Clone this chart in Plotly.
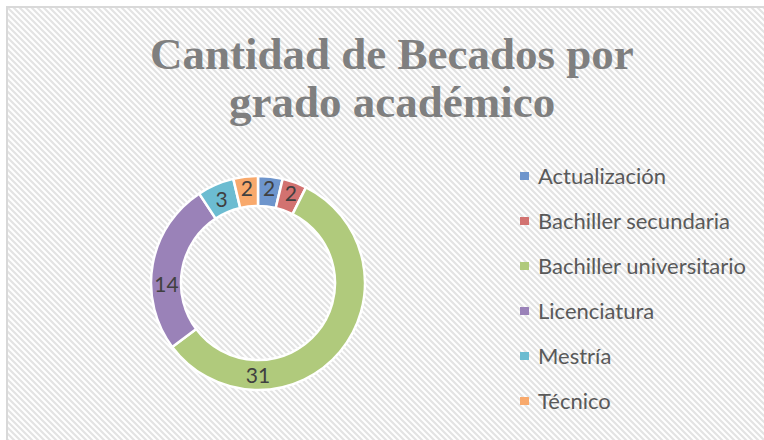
import plotly.graph_objects as go

categories = ["Actualización", "Bachiller secundaria", "Bachiller universitario",
              "Licenciatura", "Mestría", "Técnico"]
values = [2, 2, 31, 14, 3, 2]
title_lines = ["Cantidad de Becados por", "grado académico"]

colors = ["#6E95CC", "#D27270", "#B0CA7C", "#9A82B8", "#6CBCD1", "#F8A96C"]

W, H = 764, 440

def px(x):
    return x / W

def py(y):
    return 1 - y / H

hatch_svg = (
    "<svg xmlns='http://www.w3.org/2000/svg' width='764' height='440' preserveAspectRatio='none'>"
    "<defs><pattern id='p' width='6' height='6' patternUnits='userSpaceOnUse'>"
    "<rect width='6' height='6' fill='white'/>"
    "<path d='M-1,-1 L7,7 M-4,2 L1,7 M2,-4 L7,1' stroke='%23E3E3E3' stroke-width='2.2'/>"
    "</pattern></defs>"
    "<rect width='764' height='440' fill='url(%23p)'/></svg>"
)
hatch_uri = "data:image/svg+xml;utf8," + hatch_svg.replace("<", "%3C").replace(">", "%3E").replace("'", "%27").replace(" ", "%20")

fig = go.Figure()

cx, cy, r = 258, 283, 107
fig.add_trace(go.Pie(
    labels=categories,
    values=values,
    sort=False,
    direction="clockwise",
    rotation=0,
    hole=0.72,
    marker=dict(colors=colors, line=dict(color="white", width=2.5)),
    textinfo="value",
    textposition="inside",
    insidetextorientation="horizontal",
    textfont=dict(family="Lato, sans-serif", size=21, color="#404040"),
    domain=dict(x=[px(cx - r), px(cx + r)], y=[py(cy + r), py(cy - r)]),
    showlegend=False,
    hoverinfo="label+value",
))

shapes = []
annotations = []

# chart border (left and top visible)
shapes.append(dict(type="line", xref="paper", yref="paper",
                   x0=px(7), x1=px(7), y0=0, y1=py(6),
                   line=dict(color="#D9D9D9", width=2), layer="above"))
shapes.append(dict(type="line", xref="paper", yref="paper",
                   x0=px(6), x1=1, y0=py(7), y1=py(7),
                   line=dict(color="#D9D9D9", width=2), layer="above"))

# manual legend
legend_y0 = 176
legend_step = 45
for i, (cat, col) in enumerate(zip(categories, colors)):
    yc = legend_y0 + i * legend_step
    shapes.append(dict(type="rect", xref="paper", yref="paper",
                       x0=px(520), x1=px(529), y0=py(yc + 4), y1=py(yc - 4),
                       fillcolor=col, line=dict(width=0)))
    annotations.append(dict(text=cat, xref="paper", yref="paper",
                            x=px(536), y=py(yc - 1), xanchor="left", yanchor="middle",
                            showarrow=False,
                            font=dict(family="Lato, sans-serif", size=22, color="#595959")))

for j, line in enumerate(title_lines):
    annotations.append(dict(text="<b>" + line + "</b>", xref="paper", yref="paper",
                            x=px(392), y=py(54 + j * 48), xanchor="center", yanchor="middle",
                            showarrow=False,
                            font=dict(family="Liberation Serif, serif", size=45, color="#7F7F7F")))

fig.update_layout(
    width=W, height=H,
    margin=dict(l=0, r=0, t=0, b=0),
    paper_bgcolor="white",
    plot_bgcolor="white",
    shapes=shapes,
    annotations=annotations,
    uniformtext=dict(minsize=21, mode="show"),
    images=[dict(source=hatch_uri, xref="paper", yref="paper",
                 x=px(8), y=py(8), sizex=1, sizey=1,
                 xanchor="left", yanchor="top", sizing="stretch", layer="below")],
)

fig.write_html("out.html", config={"displayModeBar": False},
               post_script="document.body.style.margin='0';document.body.style.overflow='hidden';")
